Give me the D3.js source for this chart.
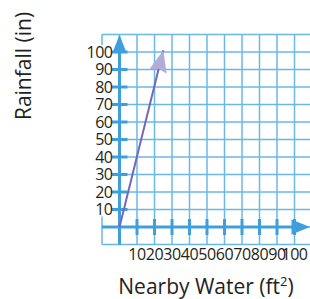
<!DOCTYPE html>
<html>
<head>
<meta charset="utf-8">
<script src="https://cdn.jsdelivr.net/npm/d3@7"></script>
<style>
  body { margin: 0; background: #fff; }
  text { font-family: "Open Sans", sans-serif; fill: #231f20; }
</style>
</head>
<body>
<div id="chart"></div>
<script>
// data
const xTicks = [10, 20, 30, 40, 50, 60, 70, 80, 90, 100];
const yTicks = [10, 20, 30, 40, 50, 60, 70, 80, 90, 100];
const gridValues = [-10, 0, 10, 20, 30, 40, 50, 60, 70, 80, 90, 100, 110];
const lineX = [0, 25];
const lineY = [0, 101];

function drawGraph() {
    const width = 310, height = 299;

    const svg = d3.select("#chart")
        .append("svg")
        .attr("width", width)
        .attr("height", height);

    const xScale = d3.scaleLinear().domain([-10, 110]).range([102, 312]);
    const yScale = d3.scaleLinear().domain([-10, 110]).range([244.5, 34.5]);

    const gridColor = "#6ab8e6";
    const axisColor = "#3f9fdc";

    // grid
    svg.append("g")
        .selectAll("line")
        .data(gridValues)
        .enter()
        .append("line")
        .attr("x1", d => xScale(d))
        .attr("x2", d => xScale(d))
        .attr("y1", yScale(110))
        .attr("y2", yScale(-10))
        .attr("stroke", gridColor)
        .attr("stroke-width", 1.5);

    svg.append("g")
        .selectAll("line")
        .data(gridValues)
        .enter()
        .append("line")
        .attr("x1", xScale(-10))
        .attr("x2", xScale(110))
        .attr("y1", d => yScale(d))
        .attr("y2", d => yScale(d))
        .attr("stroke", gridColor)
        .attr("stroke-width", 1.5);

    // white box behind the y labels
    svg.append("rect")
        .attr("x", 80)
        .attr("y", yScale(104))
        .attr("width", xScale(0) - 7 - 80)
        .attr("height", yScale(6) - yScale(104))
        .attr("fill", "#fff");

    // axes
    svg.append("line")
        .attr("x1", xScale(0)).attr("x2", xScale(0))
        .attr("y1", yScale(-10)).attr("y2", yScale(102))
        .attr("stroke", axisColor)
        .attr("stroke-width", 3);

    svg.append("line")
        .attr("x1", xScale(-10)).attr("x2", xScale(102))
        .attr("y1", yScale(0)).attr("y2", yScale(0))
        .attr("stroke", axisColor)
        .attr("stroke-width", 3);

    // axis arrows
    const x0 = xScale(0), y0 = yScale(0);
    svg.append("path")
        .attr("d", `M${x0},${yScale(110)} L${x0 + 7},${yScale(110) + 18.5} L${x0 - 7},${yScale(110) + 18.5} Z`)
        .attr("fill", axisColor);

    svg.append("path")
        .attr("d", `M${width},${y0} L${width - 18.5},${y0 - 7.5} L${width - 18.5},${y0 + 7.5} Z`)
        .attr("fill", axisColor);

    // tick marks
    svg.append("g")
        .selectAll("line")
        .data(yTicks)
        .enter()
        .append("line")
        .attr("x1", x0 - 8).attr("x2", x0 + 8)
        .attr("y1", d => yScale(d)).attr("y2", d => yScale(d))
        .attr("stroke", axisColor)
        .attr("stroke-width", 3);

    svg.append("g")
        .selectAll("line")
        .data(xTicks)
        .enter()
        .append("line")
        .attr("x1", d => xScale(d)).attr("x2", d => xScale(d))
        .attr("y1", y0 - 8).attr("y2", y0 + 8)
        .attr("stroke", axisColor)
        .attr("stroke-width", 3);

    // tick labels
    svg.append("g")
        .selectAll("text")
        .data(yTicks)
        .enter()
        .append("text")
        .attr("x", x0 - 7)
        .attr("y", d => yScale(d))
        .attr("dy", "0.36em")
        .attr("text-anchor", "end")
        .style("font-size", "16px")
        .style("letter-spacing", "-0.5px")
        .text(d => d);

    svg.append("g")
        .selectAll("text")
        .data(xTicks)
        .enter()
        .append("text")
        .attr("x", d => xScale(d))
        .attr("y", 260)
        .attr("text-anchor", "middle")
        .style("font-size", "16px")
        .style("letter-spacing", "-0.5px")
        .text(d => d);

    // the line with its arrow
    svg.append("defs")
        .append("marker")
        .attr("id", "head")
        .attr("markerUnits", "userSpaceOnUse")
        .attr("markerWidth", 24)
        .attr("markerHeight", 20)
        .attr("refX", 22)
        .attr("refY", 9)
        .attr("orient", "auto")
        .append("path")
        .attr("d", "M22,9 L0,0 L3,9 L0,18 Z")
        .attr("fill", "#b2acdb");

    const pts = lineX.map((x, i) => [x, lineY[i]]);
    svg.append("path")
        .datum(pts)
        .attr("fill", "none")
        .attr("stroke", "#7467bd")
        .attr("stroke-width", 2)
        .attr("marker-end", "url(#head)")
        .attr("d", d3.line().x(d => xScale(d[0])).y(d => yScale(d[1])));

    // axis titles
    const xt = svg.append("text")
        .attr("x", 206)
        .attr("y", 294)
        .attr("text-anchor", "middle")
        .style("font-size", "21px");
    xt.append("tspan").text("Nearby Water (ft");
    xt.append("tspan").attr("dy", -8).style("font-size", "13px").text("2");
    xt.append("tspan").attr("dy", 8).text(")");

    svg.append("text")
        .attr("transform", "translate(31,66) rotate(-90)")
        .attr("text-anchor", "middle")
        .style("font-size", "21px")
        .text("Rainfall (in)");
}
drawGraph();
</script>
</body>
</html>
